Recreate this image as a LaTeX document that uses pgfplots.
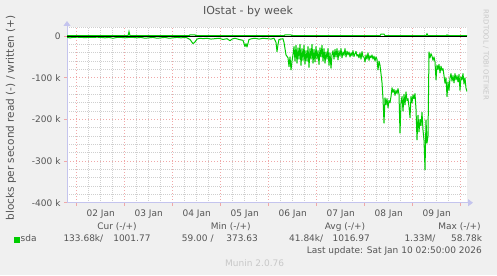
\documentclass[border=0pt]{standalone}
\usepackage{pgfplots}
\pgfplotsset{compat=1.18}
\usepackage{fontspec}
\setmainfont{DejaVu Sans}
\usetikzlibrary{arrows.meta}
\definecolor{bgc}{HTML}{F0F0F0}
\definecolor{txt}{HTML}{555555}
\definecolor{mgrid}{HTML}{F0A8A8}
\definecolor{ngrid}{HTML}{CFCFCF}
\definecolor{axc}{HTML}{C4C4EE}
\definecolor{grn}{HTML}{00CC00}
\definecolor{light}{HTML}{C8C8C8}
\newcommand{\fs}[1]{\fontsize{#1bp}{#1bp}\selectfont}
\begin{document}
\begin{tikzpicture}[x=1bp,y=1bp]
\path[use as bounding box] (0,0) rectangle (497,275);
\fill[bgc] (0,0) rectangle (497,275);
\begin{axis}[
  at={(67bp,72.3bp)}, anchor=south west, scale only axis,
  width=400bp, height=175.7bp,
  xmin=0, xmax=400, ymin=-400, ymax=22,
  axis background/.style={fill=white},
  axis x line=bottom, axis y line=left,
  x axis line style={draw=axc, line width=0.8bp, -{Triangle[length=5bp,width=7bp]}, shorten >=-6bp},
  y axis line style={draw=axc, line width=0.8bp, -{Triangle[length=5bp,width=7bp]}, shorten >=-6bp},
  xtick={9.7,57.7,105.7,153.7,201.7,249.7,297.7,345.7,393.7},
  xticklabels={02 Jan,03 Jan,04 Jan,05 Jan,06 Jan,07 Jan,08 Jan,09 Jan,{}},
  minor x tick num=3,
  ytick={-400,-300,-200,-100,0},
  yticklabels={-400 k,-300 k,-200 k,-100 k,0},
  minor ytick={-380,-360,-340,-320,-280,-260,-240,-220,-180,-160,-140,-120,-80,-60,-40,-20,20},
  grid=both,
  major grid style={draw=mgrid, line width=0.8bp, dash pattern=on 1bp off 2bp},
  minor grid style={draw=ngrid, line width=0.8bp, dash pattern=on 1bp off 1bp},
  tick align=outside, major tick length=3bp, minor tick length=0pt,
  tick style={draw=mgrid, line width=0.8bp},
  tick label style={font=\fs{9}, text=txt},
  x tick label style={xshift=24bp, yshift=-1bp},
  y tick label style={xshift=0bp},
  clip=true,
]
\addplot[grn, line width=1bp] coordinates {(0,1)(61,1)(62,11)(63,1)(122,1)(123,3)(128,3)(129,1)(217,1)(218,3)(224,3)(225,1)(313,1)(314,5)(317,5)(318,1)(359,1)(360,6)(361,1)(379,1)(380,3)(381,1)(400,1)};
\addplot[grn, line width=1bp, line join=round] coordinates {
(0,-3)(3,-4)(6,-3)(10,-2.5)(14,-3)(18,-3.5)(22,-3)(26,-3)(30,-2.5)(34,-3)(38,-4)(42,-3)(46,-5)(50,-3)(54,-3)(58,-4)(62,-3)(66,-3)(70,-4)(74,-3)(78,-5)(82,-4)(86,-3)(90,-5)(94,-4)(98,-3)(102,-5)(106,-4)(110,-3)(114,-4)(118,-3)
(120,-4)(123,-8)(126,-18)(128,-14)(130,-7)(133,-5)
(136,-6)(140,-5)(144,-7)(148,-6)(152,-5)(156,-8)(160,-6)(163,-11)(165,-7)(168,-5)(172,-8)
(176,-10)(178,-25)(179,-18)(180,-26)(182,-8)(185,-6)
(188,-5)(192,-7)(196,-5)(200,-6)(204,-7)(207,-5)(209,-15)
(210,-37)(211,-20)(212,-8)(214,-7)(216,-6)
(217,-15)(218,-30)(219,-45)(221,-52)(222,-73)(223,-50)(224,-81)(225,-60)(226,-45)
(227,-25)(228,-60)(229,-22)(230,-65)(231,-28)(232,-55)(233,-20)(234,-70)(235,-30)(236,-58)(237,-22)(238,-67)(239,-35)(240,-60)(241,-25)(242,-75)(243,-30)(244,-55)(245,-20)(246,-65)(247,-32)(248,-62)(249,-25)(250,-55)(251,-35)(252,-68)(253,-28)(254,-50)(255,-22)(256,-60)(257,-30)(258,-65)(259,-38)(260,-55)(261,-30)(262,-70)(263,-40)
(264,-77)(265,-45)(266,-35)(267,-55)(268,-32)(269,-50)(270,-30)(271,-57)(272,-35)(273,-48)(274,-30)(275,-52)(276,-38)(277,-46)(278,-30)(279,-50)(280,-36)
(281,-45)(282,-38)(283,-50)(284,-40)(285,-47)(286,-35)(287,-49)(288,-42)(289,-37)(290,-48)(291,-44)(292,-52)(293,-40)(294,-55)(295,-37)(296,-50)
(297,-50)(298,-62)(299,-45)(300,-55)(301,-40)(302,-58)(303,-47)(304,-52)(305,-45)(306,-55)(307,-48)(308,-60)(309,-50)(310,-56)(311,-81)(312,-60)(313,-70)
(314,-90)(315,-112)(316,-150)(317,-209)
(318,-148)(319,-165)(320,-150)(321,-172)(322,-155)(323,-160)(324,-145)(325,-124)
(326,-135)(327,-128)(328,-142)(329,-130)(330,-138)(331,-126)(332,-140)(333,-233)
(334,-160)(335,-145)(336,-180)(337,-140)(338,-165)(339,-134)(340,-155)(341,-150)(342,-170)(343,-196)
(344,-145)(345,-160)(346,-141)(347,-150)(348,-138)(349,-175)(350,-249)
(351,-190)(352,-230)(353,-200)(354,-215)(355,-183)(356,-226)(357,-250)(358,-321)(359,-201)(360,-257)(361,-240)
(362,-38)(363,-52)(364,-42)(365,-48)(366,-58)(367,-50)(368,-62)(369,-105)
(370,-70)(371,-80)(372,-68)(373,-88)(374,-72)(375,-82)(376,-78)(377,-95)(378,-113)
(379,-100)(380,-145)(381,-110)(382,-130)(383,-100)
(384,-90)(385,-108)(386,-95)(387,-112)(388,-90)(389,-105)(390,-95)
(391,-110)(392,-92)(393,-130)(394,-98)(395,-105)(396,-90)(397,-115)(398,-100)(399,-125)(400,-133)};
\addplot[black, line width=1bp] coordinates {(0,0)(400,0)};
\end{axis}
\node[text=txt, font=\fs{11}] at (248,264) {IOstat - by week};
\node[text=txt, font=\fs{10.5}, rotate=90] at (11,157) {blocks per second read (-) / written (+)};
\node[text=light, font=\fs{7}, rotate=-90] at (486,220) {RRDTOOL / TOBI OETIKER};
\begin{scope}[every node/.style={text=txt, font=\fs{9}, inner sep=0pt}]
\node at (117,48) {Cur (-/+)};
\node at (230.8,48) {Min (-/+)};
\node at (345,48) {Avg (-/+)};
\node at (459.5,48) {Max (-/+)};
\fill[grn] (14,32.3) rectangle (20,38.3);
\node[anchor=west] at (20.5,36.7) {sda};
\node[anchor=west] at (63.3,36.7) {133.68k/};
\node[anchor=east] at (150.7,36.7) {1001.77};
\node[anchor=west] at (181.7,36.7) {59.00 /};
\node[anchor=east] at (258,36.7) {373.63};
\node[anchor=west] at (289,36.7) {41.84k/};
\node[anchor=east] at (370,36.7) {1016.97};
\node[anchor=west] at (404.3,36.7) {1.33M/};
\node[anchor=east] at (482.3,36.7) {58.78k};
\node[anchor=east] at (482,24.3) {Last update: Sat Jan 10 02:50:00 2026};
\node[anchor=west, text=light] at (225,12.3) {Munin 2.0.76};
\end{scope}
\end{tikzpicture}
\end{document}
